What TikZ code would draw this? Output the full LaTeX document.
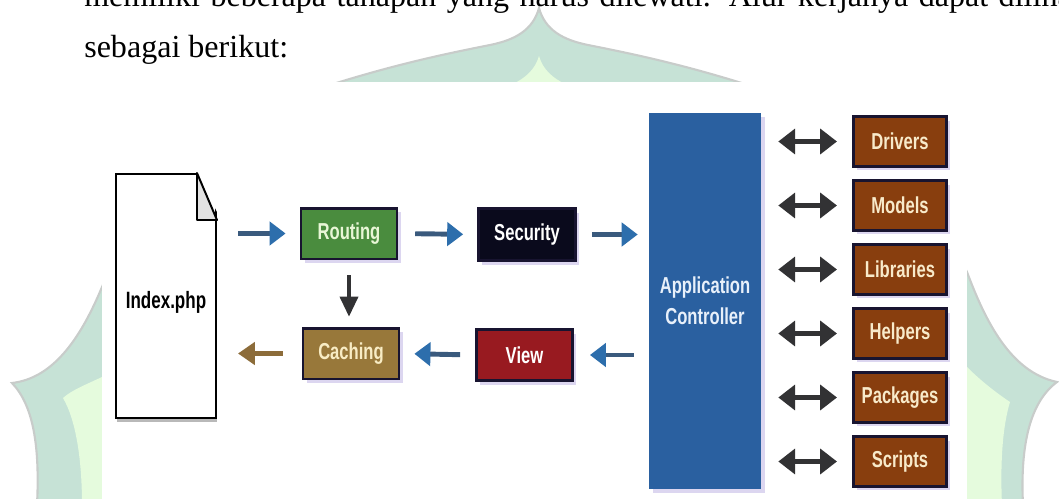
\documentclass[tikz,border=0pt]{standalone}
\usepackage{fontspec}
\setmainfont{Liberation Serif}
\newfontfamily\labelfont{Liberation Sans}[FakeStretch=0.72]
\usepackage{xcolor}
\usepackage{tikz}
\usetikzlibrary{positioning,arrows.meta,shadows}

\definecolor{wmband}{RGB}{198,226,214}
\definecolor{wminner}{RGB}{229,251,221}
\definecolor{wmedge}{RGB}{200,204,202}
\definecolor{routegreen}{RGB}{74,140,62}
\definecolor{routetext}{RGB}{232,246,214}
\definecolor{secblack}{RGB}{10,10,28}
\definecolor{cachebrown}{RGB}{152,120,58}
\definecolor{cachetext}{RGB}{248,236,196}
\definecolor{viewred}{RGB}{152,26,32}
\definecolor{ctrlblue}{RGB}{42,96,160}
\definecolor{ctrltext}{RGB}{232,240,250}
\definecolor{libbrown}{RGB}{136,62,14}
\definecolor{libtext}{RGB}{248,234,202}
\definecolor{boxedge}{RGB}{24,20,48}
\definecolor{shaftblue}{RGB}{58,90,125}
\definecolor{tipblue}{RGB}{45,110,172}
\definecolor{arrbrown}{RGB}{140,108,58}
\definecolor{arrdark}{RGB}{50,50,52}
\definecolor{shadowlav}{RGB}{220,214,240}
\definecolor{foldgray}{RGB}{226,226,226}

\begin{document}
\begin{tikzpicture}[x=0.025cm, y=-0.025cm,
  stagebox/.style={draw=boxedge, line width=2pt, minimum width=2.4cm, minimum height=1.27cm,
    inner sep=0pt, font=\labelfont\bfseries\fontsize{16.4}{22}\selectfont,
    drop shadow={shadow xshift=2.5pt, shadow yshift=-3pt, fill=shadowlav, opacity=1}},
  libbox/.style={stagebox, fill=libbrown, text=libtext, minimum width=2.33cm, minimum height=1.23cm},
  flowarr/.style={line width=3.5pt, draw=shaftblue, -{Triangle[length=0.4cm, width=0.58cm, color=tipblue]}},
  backarr/.style={line width=4pt, draw=arrbrown, -{Triangle[length=0.42cm, width=0.55cm]}},
  downarr/.style={line width=2.5pt, draw=arrdark, -{Triangle[length=0.5cm, width=0.45cm]}},
  linkarr/.style={line width=3.5pt, draw=arrdark,
    {Triangle[length=0.42cm, width=0.62cm]}-{Triangle[length=0.42cm, width=0.62cm]}}]
\useasboundingbox (0,0) rectangle (1059,499);
\clip (0,0) rectangle (1059,499);

% watermark behind the page
\path[fill=wmband, draw=wmedge, line width=1.5pt]
  (539,8) .. controls (533,30) and (515,40) .. (490,45)
  .. controls (450,53) and (400,63) .. (330,85)
  -- (140,200) .. controls (125,235) and (112,265) .. (102,287)
  .. controls (82,335) and (55,378) .. (12,383)
  .. controls (33,405) and (40,445) .. (37,505)
  -- (1023,505)
  .. controls (1020,445) and (1030,402) .. (1057,382)
  .. controls (1010,372) and (985,320) .. (967,272)
  -- (930,200) -- (748,85)
  .. controls (678,63) and (628,53) .. (588,45)
  .. controls (563,40) and (545,30) .. (539,8) -- cycle;
\fill[wminner] (539,56) .. controls (535,70) and (525,78) .. (513,84)
  -- (300,200) -- (102,377)
  .. controls (85,385) and (72,390) .. (63,398)
  .. controls (76,420) and (82,460) .. (82,505) -- (1002,505)
  .. controls (1000,460) and (1003,425) .. (1010,402)
  .. controls (995,392) and (980,380) .. (967,367)
  -- (800,200) -- (565,84)
  .. controls (553,78) and (543,70) .. (539,56) -- cycle;
\fill[white] (102,82) rectangle (967,505);

% running text above the figure
\node[anchor=base west, inner sep=0pt, font=\fontsize{22.8}{27}\selectfont] (line1) at (84,7)
  {\makebox[24.9cm][s]{memiliki beberapa tahapan yang harus dilewati. Alur kerjanya dapat dilihat}};
\node[anchor=base west, inner sep=0pt, font=\fontsize{22.8}{27}\selectfont] (line2) at (84,58)
  {sebagai berikut:};

% index page
\node[draw=black, line width=1.4pt, fill=white, minimum width=2.5cm, minimum height=6.1cm,
  text height=0.65cm, text depth=0.05cm,
  font=\labelfont\bfseries\fontsize{16.8}{20}\selectfont,
  drop shadow={shadow xshift=1pt, shadow yshift=-3pt, fill=gray!55, opacity=1}] (doc) at (166,296)
  {Index.php};
\fill[white] ([xshift=-0.5cm]doc.north east) -- ([xshift=3pt, yshift=3pt]doc.north east)
  -- ([xshift=3pt, yshift=-1.175cm]doc.north east) -- cycle;
\draw[line width=1.4pt, fill=foldgray, line join=round] ([xshift=-0.5cm]doc.north east)
  -- ([yshift=-1.175cm]doc.north east) -- ([xshift=-0.5cm, yshift=-1.175cm]doc.north east) -- cycle;

\node[stagebox, fill=routegreen, text=routetext] (routing) at (349,233.5) {Routing};
\node[stagebox, fill=secblack, text=white, minimum width=2.42cm, minimum height=1.3cm] (security) at (527,234.5) {Security};
\node[stagebox, fill=cachebrown, text=cachetext] (caching) at (351,353.5) {Caching};
\node[stagebox, fill=viewred, text=white] (view) at (524.5,355) {View};
\node[fill=ctrlblue, text=ctrltext, minimum width=2.8cm, minimum height=9.4cm, align=center,
  font=\labelfont\bfseries\fontsize{16.4}{22}\selectfont,
  drop shadow={shadow xshift=2.5pt, shadow yshift=-3pt, fill=shadowlav, opacity=1}] (ctrl) at (705,301)
  {Application\\Controller};

\draw[flowarr, shorten <=0.525cm, shorten >=0.35cm] (doc.east |- routing.west) -- (routing.west);
\draw[flowarr, shorten <=0.42cm, shorten >=0.35cm] (routing.east) -- (security.west);
\draw[flowarr, shorten <=0.375cm, shorten >=0.275cm] (security.east) -- (security.east -| ctrl.west);
\draw[downarr, shorten <=0.375cm, shorten >=0.25cm] (routing.south) -- (routing.south |- caching.north);
\draw[flowarr, shorten <=0.375cm, shorten >=0.4cm] (ctrl.west |- view.east) -- (view.east);
\draw[flowarr, shorten <=0.375cm, shorten >=0.35cm] (view.west) -- (caching.east);
\draw[backarr, shorten <=0.475cm, shorten >=0.525cm] (caching.west) -- (caching.west -| doc.east);

% resources beside the controller
\foreach \lib/\libname/\ly in {drivers/Drivers/141.5, models/Models/205.5, libraries/Libraries/269.5,
    helpers/Helpers/333.5, packages/Packages/397.5, scripts/Scripts/461.5} {
  \node[libbox] (\lib) at (900,\ly) {\libname};
  \draw[linkarr, shorten <=0.425cm, shorten >=0.375cm] (ctrl.east |- \lib.west) -- (\lib.west);
}
\end{tikzpicture}
\end{document}
